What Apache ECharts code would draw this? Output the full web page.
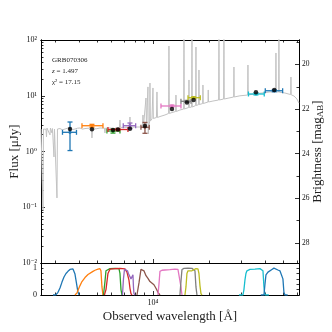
<!DOCTYPE html>
<html>
<head>
<meta charset="utf-8">
<script src="https://cdn.jsdelivr.net/npm/echarts@6/dist/echarts.min.js"></script>
<style>
  html, body { margin: 0; padding: 0; background: #fff; }
  #chart { width: 332px; height: 332px; }
</style>
</head>
<body>
<div id="chart"></div>
<script>
// model spectrum: observed wavelength [A] and flux [uJy]
const specWave = [
  2500, 2547, 2563, 2578, 2627, 2660, 2676, 2692, 2743, 2794, 2811, 2864, 2882, 2936, 2954, 3009, 3047, 3066,
  3162, 3260, 3365, 3470, 3580, 3700, 3808, 3930, 4051, 4180, 4310, 4673, 4699, 4730, 4950, 5189, 5486, 5520,
  5554, 5872, 6200, 6605, 6646, 6687, 7071, 7476, 7522, 7569, 8002, 8513, 8781, 8837, 8891, 9113, 9172, 9228,
  9342, 9400, 9420, 9435, 9494, 9600, 9636, 9683, 9877, 10000, 10050, 10441, 10508, 10573, 10905, 11601,
  12132, 12190, 12250, 12654, 13243, 13295, 13346, 13968, 14630, 14683, 14737, 15560, 15620, 15680, 16150,
  16210, 16270, 16970, 17030, 17090, 17610, 17674, 17740, 18500, 18570, 18640, 19760, 19830, 19900, 21020,
  22550, 22640, 22730, 23990, 24080, 24170, 25620, 27160, 27260, 27360, 29360, 32290, 32420, 32530, 35350,
  38550, 42560, 45670, 45850, 46030, 47390, 47570, 47750, 51240, 55000, 55210, 55410, 57310, 59460, 60960
];
const specFlux = [
  2.53, 2.48, 0.089, 2.53, 2.64, 2.5, 1.82, 2.64, 2.53, 1.98, 2.64, 2.15, 2.58, 0.8, 2.53, 2.64, 0.147, 2.53,
  2.58, 2.45, 2.53, 2.62, 2.58, 2.48, 2.53, 2.62, 2.64, 2.52, 2.58, 2.64, 1.75, 2.58, 2.55, 2.64, 2.62, 2.15,
  2.62, 2.64, 2.58, 2.71, 3.67, 2.71, 2.71, 2.71, 4.16, 2.71, 2.75, 2.75, 2.81, 4.52, 2.81, 2.87, 9.11, 2.87,
  2.93, 14.4, 2.95, 2.06, 2.99, 3.38, 16.9, 3.52, 3.83, 13.8, 3.91, 4.07, 11.7, 4.07, 4.24, 4.52,
  4.81, 78.0, 4.81, 5.0, 5.22, 10.3, 5.22, 5.55, 5.78, 150, 5.78, 6.15, 19.2, 6.15, 6.28,
  150, 6.28, 6.68, 74.9, 6.68, 6.95, 29.0, 6.95, 7.25, 15.6, 7.25, 7.72, 12.7, 7.72, 8.04,
  8.39, 150, 8.39, 8.74, 150, 8.74, 9.11, 9.5, 32.8, 9.5, 9.98, 10.3, 35.6, 10.3, 10.84,
  11.2, 11.7, 11.7, 58.5, 11.7, 11.65, 150, 11.6, 11.2, 10.5, 21.7, 10.4, 9.9, 8.74, 7.4
];

// photometry: band centre, band edges, measured flux, error, model flux
const photWave = [3580, 4699, 6095, 6482, 7522, 9057, 12654, 15230, 16550, 35790, 44900];
const photWaveLo = [3262, 4152, 5656, 5728, 6923, 8619, 11042, 14143, 15430, 32620, 40180];
const photWaveHi = [3879, 5385, 6646, 7338, 8072, 9553, 14143, 16010, 17965, 39670, 49810];
const photFlux = [2.21, 2.9, 2.33, 2.48, 2.9, 2.72, 6.55, 7.95, 9.23, 10.75, 12.3];
const photErr = [1.17, 0.17, 0.19, 0.1, 0.34, 0.6, 0.27, 0.3, 0.35, 0.4, 0.5];
const modelFlux = [2.53, 2.5, 2.43, 2.48, 2.56, 2.87, 5.78, 7.6, 8.39, 11.6, 12.7];

// filter transmission curves [wavelength, transmission]
const filterCurves = [
  [[2900, 0], [3000, 0], [3040, 0.04], [3085, 0.1], [3162, 0.26], [3242, 0.48], [3323, 0.67], [3407, 0.8], [3491, 0.88],
   [3580, 0.95], [3624, 0.98], [3669, 0.99], [3715, 0.97], [3761, 0.9], [3808, 0.78], [3855, 0.55], [3904, 0.32],
   [3952, 0.1], [4002, 0.01], [4030, 0]],
  [[3808, 0], [3904, 0.08], [4051, 0.35], [4152, 0.5], [4310, 0.65], [4474, 0.76], [4585, 0.82], [4758, 0.88],
   [4878, 0.92], [5062, 0.96], [5189, 0.98], [5252, 0.9], [5318, 0.3], [5385, 0]],
  [[5419, 0], [5520, 0.5], [5589, 0.9], [5656, 0.97], [5872, 0.98], [6247, 0.99], [6564, 0.98], [6646, 0.8],
   [6730, 0.2], [6813, 0]],
  [[5480, 0], [5589, 0.2], [5728, 0.8], [5872, 0.96], [6247, 0.98], [6646, 0.99], [7071, 0.97], [7248, 0.85],
   [7338, 0.7], [7430, 0.55], [7522, 0.25], [7617, 0.05], [7711, 0]],
  [[6855, 0], [6940, 0.6], [7028, 0.95], [7158, 0.98], [7295, 0.9], [7380, 0.8], [7430, 0.85], [7522, 0.8],
   [7617, 0.6], [7711, 0.65], [7806, 0.75], [7855, 0.3], [7903, 0.05], [8002, 0]],
  [[8204, 0], [8410, 0.45], [8619, 0.95], [8729, 0.98], [8946, 0.9], [9172, 0.72], [9400, 0.62], [9636, 0.5],
   [9877, 0.45], [10124, 0.38], [10378, 0.25], [10638, 0.1], [10905, 0]],
  [[10638, 0], [10771, 0.4], [10905, 0.88], [11180, 0.92], [11601, 0.93], [12342, 0.94], [13130, 0.96],
   [13627, 0.95], [13968, 0.9], [14143, 0.3], [14323, 0]],
  [[13968, 0], [14143, 0.5], [14323, 0.95], [14683, 0.99], [15430, 1.0], [16210, 0.99], [16610, 0.97],
   [16820, 0.9], [17030, 0.3], [17244, 0]],
  [[14860, 0], [15050, 0.3], [15230, 0.8], [15430, 0.9], [15815, 0.93], [16210, 0.9], [16610, 0.97],
   [17030, 0.98], [17458, 0.97], [17674, 0.8], [17895, 0.35], [18120, 0.05], [18345, 0]],
  [[29000, 0], [30470, 0], [30850, 0.2], [31230, 0.55], [31623, 0.8], [32020, 0.9], [32420, 0.94], [33230, 0.95],
   [35350, 0.96], [37610, 0.98], [38550, 1.0], [39040, 0.9], [39530, 0.3], [40020, 0], [42000, 0]],
  [[38000, 0], [39530, 0], [40020, 0.4], [40520, 0.75], [41030, 0.7], [41540, 0.85], [42050, 0.86], [42560, 0.9],
   [43630, 0.95], [44730, 1.0], [45850, 0.95], [46990, 0.93], [48170, 0.9], [49370, 0.85], [49990, 0.6],
   [50610, 0.1], [51240, 0], [53000, 0]]
];

// ticks and tick labels
const xMajorTicks = [10000];
const xMinorTicks = [3000, 4000, 5000, 6000, 7000, 8000, 9000, 20000, 30000, 40000, 50000, 60000];
const xTickLabels = ['10⁴'];
const yMajorTicks = [0.01, 0.1, 1, 10, 100];
const yMinorTicks = [
  0.02, 0.03, 0.04, 0.05, 0.06, 0.07, 0.08, 0.09, 0.2, 0.3, 0.4, 0.5, 0.6, 0.7, 0.8, 0.9,
  2, 3, 4, 5, 6, 7, 8, 9, 20, 30, 40, 50, 60, 70, 80, 90
];
const yTickLabels = ['10⁻²', '10⁻¹', '10⁰', '10¹', '10²'];
const magMajorTicks = [20, 22, 24, 26, 28];
const magMinorTicks = [19, 21, 23, 25, 27];
const transTicks = [0, 0.2, 0.4, 0.6, 0.8, 1];
const transLabels = [0, 1];

const photColors = ['#1f77b4', '#ff7f0e', '#2ca02c', '#d62728', '#9467bd', '#8c564b',
  '#e377c2', '#7f7f7f', '#bcbd22', '#17becf', '#1f77b4'];

const FONT = '"Liberation Serif", "DejaVu Serif", serif';

function tickAxis(base, ticks, len, extra) {
  return Object.assign({
    axisLine: { show: true, onZero: false, lineStyle: { color: '#000', width: 1 } },
    axisTick: { show: true, inside: true, length: len, customValues: ticks, lineStyle: { color: '#000', width: 0.8 } },
    axisLabel: { show: false },
    splitLine: { show: false },
    minorTick: { show: false },
  }, base, extra || {});
}

function labelStyle(size, margin) {
  return { show: true, fontFamily: FONT, fontSize: size, color: '#111', margin: margin };
}

function renderPhot(params, api) {
  const color = photColors[params.dataIndex];
  const mid = api.coord([api.value(0), api.value(1)]);
  const left = api.coord([api.value(2), api.value(1)]);
  const right = api.coord([api.value(3), api.value(1)]);
  const top = api.coord([api.value(0), api.value(1) + api.value(4)]);
  const bottom = api.coord([api.value(0), api.value(1) - api.value(4)]);
  const cap = 2.5;
  const seg = (x1, y1, x2, y2) => ({
    type: 'line', shape: { x1, y1, x2, y2 }, style: { stroke: color, lineWidth: 1.3 }
  });
  return {
    type: 'group',
    children: [
      seg(left[0], mid[1], right[0], mid[1]),
      seg(left[0], mid[1] - cap, left[0], mid[1] + cap),
      seg(right[0], mid[1] - cap, right[0], mid[1] + cap),
      seg(mid[0], top[1], mid[0], bottom[1]),
      seg(mid[0] - cap, top[1], mid[0] + cap, top[1]),
      seg(mid[0] - cap, bottom[1], mid[0] + cap, bottom[1]),
      { type: 'circle', shape: { cx: mid[0], cy: mid[1], r: 1.6 }, style: { fill: color } },
    ],
  };
}

const chart = echarts.init(document.getElementById('chart'));

const xBase = { type: 'log', logBase: 10, min: 2500, max: 61000 };
const fluxBase = { type: 'log', logBase: 10, min: 0.01, max: 100, gridIndex: 0, position: 'left' };
const magBase = { type: 'value', gridIndex: 0, position: 'right', inverse: true, min: 18.9, max: 28.9 };
const transBase = { type: 'value', gridIndex: 1, min: 0, max: 1.19 };

const option = {
  animation: false,
  backgroundColor: '#fff',
  grid: [
    { left: 41, top: 40, width: 258, height: 223, containLabel: false, outerBoundsMode: 'none' },
    { left: 41, top: 263, width: 258, height: 32, containLabel: false, outerBoundsMode: 'none' },
  ],
  xAxis: [
    tickAxis({ ...xBase, gridIndex: 0, position: 'bottom' }, xMajorTicks, 4),
    tickAxis({ ...xBase, gridIndex: 0, position: 'bottom' }, xMinorTicks, 2.5),
    tickAxis({ ...xBase, gridIndex: 0, position: 'top' }, xMajorTicks, 4),
    tickAxis({ ...xBase, gridIndex: 0, position: 'top' }, xMinorTicks, 2.5),
    tickAxis({ ...xBase, gridIndex: 1, position: 'bottom' }, xMajorTicks, 4, {
      axisLabel: Object.assign(labelStyle(8, 4), {
        customValues: xMajorTicks,
        formatter: (v) => xTickLabels[xMajorTicks.indexOf(Math.round(v))] || '',
      }),
      name: 'Observed wavelength [Å]',
      nameLocation: 'middle',
      nameGap: 15,
      nameMoveOverlap: false,
      nameTextStyle: { fontFamily: FONT, fontSize: 13, color: '#222' },
    }),
    tickAxis({ ...xBase, gridIndex: 1, position: 'bottom' }, xMinorTicks, 2.5),
    tickAxis({ ...xBase, gridIndex: 1, position: 'top' }, [], 0, { axisTick: { show: false } }),
  ],
  yAxis: [
    tickAxis(fluxBase, yMajorTicks, 4, {
      axisLabel: Object.assign(labelStyle(8, 4), {
        customValues: yMajorTicks,
        formatter: (v) => yTickLabels[Math.round(Math.log10(v)) + 2],
      }),
      name: 'Flux [μJy]',
      nameLocation: 'middle',
      nameGap: 20,
      nameMoveOverlap: false,
      nameTextStyle: { fontFamily: FONT, fontSize: 13, color: '#222' },
    }),
    tickAxis(fluxBase, yMinorTicks, 2.5),
    tickAxis(magBase, magMajorTicks, 4, {
      axisLabel: Object.assign(labelStyle(7.5, 3), { customValues: magMajorTicks }),
      name: 'Brightness [mag{s|AB}]',
      nameLocation: 'middle',
      nameGap: 12,
      nameMoveOverlap: false,
      nameTextStyle: {
        fontFamily: FONT, fontSize: 13, color: '#222',
        rich: { s: { fontFamily: FONT, fontSize: 9, color: '#222', verticalAlign: 'bottom', padding: [5, 0, 0, 0] } },
      },
    }),
    tickAxis(magBase, magMinorTicks, 2.5),
    tickAxis({ ...transBase, position: 'left' }, transTicks, 2.5, {
      axisLabel: Object.assign(labelStyle(8, 4), { customValues: transLabels }),
    }),
    tickAxis({ ...transBase, position: 'right' }, transTicks, 2.5),
  ],
  graphic: [
    { type: 'text', left: 52, top: 56.5, style: { text: 'GRB070306', fontFamily: FONT, fontSize: 7, fill: '#222' } },
    {
      type: 'text', left: 52, top: 68,
      style: { text: '{i|z} = 1.497', fontFamily: FONT, fontSize: 7, fill: '#222',
        rich: { i: { fontFamily: FONT, fontSize: 7, fontStyle: 'italic', fill: '#222' } } },
    },
    { type: 'text', left: 52, top: 79, style: { text: 'χ² = 17.15', fontFamily: FONT, fontSize: 7, fill: '#222' } },
  ],
  series: [
    {
      type: 'line',
      xAxisIndex: 0,
      yAxisIndex: 0,
      data: specWave.map((w, i) => [w, specFlux[i]]),
      showSymbol: false,
      symbol: 'none',
      clip: true,
      lineStyle: { color: '#c2c2c2', width: 1 },
      z: 1,
    },
    {
      type: 'custom',
      xAxisIndex: 0,
      yAxisIndex: 0,
      encode: { x: 0, y: 1 },
      data: photWave.map((w, i) => [w, photFlux[i], photWaveLo[i], photWaveHi[i], photErr[i]]),
      renderItem: renderPhot,
      z: 3,
    },
    {
      type: 'scatter',
      xAxisIndex: 0,
      yAxisIndex: 0,
      data: photWave.map((w, i) => [w, modelFlux[i]]),
      symbol: 'circle',
      symbolSize: 4.5,
      itemStyle: { color: '#000' },
      z: 5,
    },
    ...filterCurves.map((curve, i) => ({
      type: 'line',
      xAxisIndex: 4,
      yAxisIndex: 4,
      data: curve,
      showSymbol: false,
      symbol: 'none',
      lineStyle: { color: photColors[i], width: 1.3 },
      z: 2,
    })),
  ],
};

chart.setOption(option);
</script>
</body>
</html>
